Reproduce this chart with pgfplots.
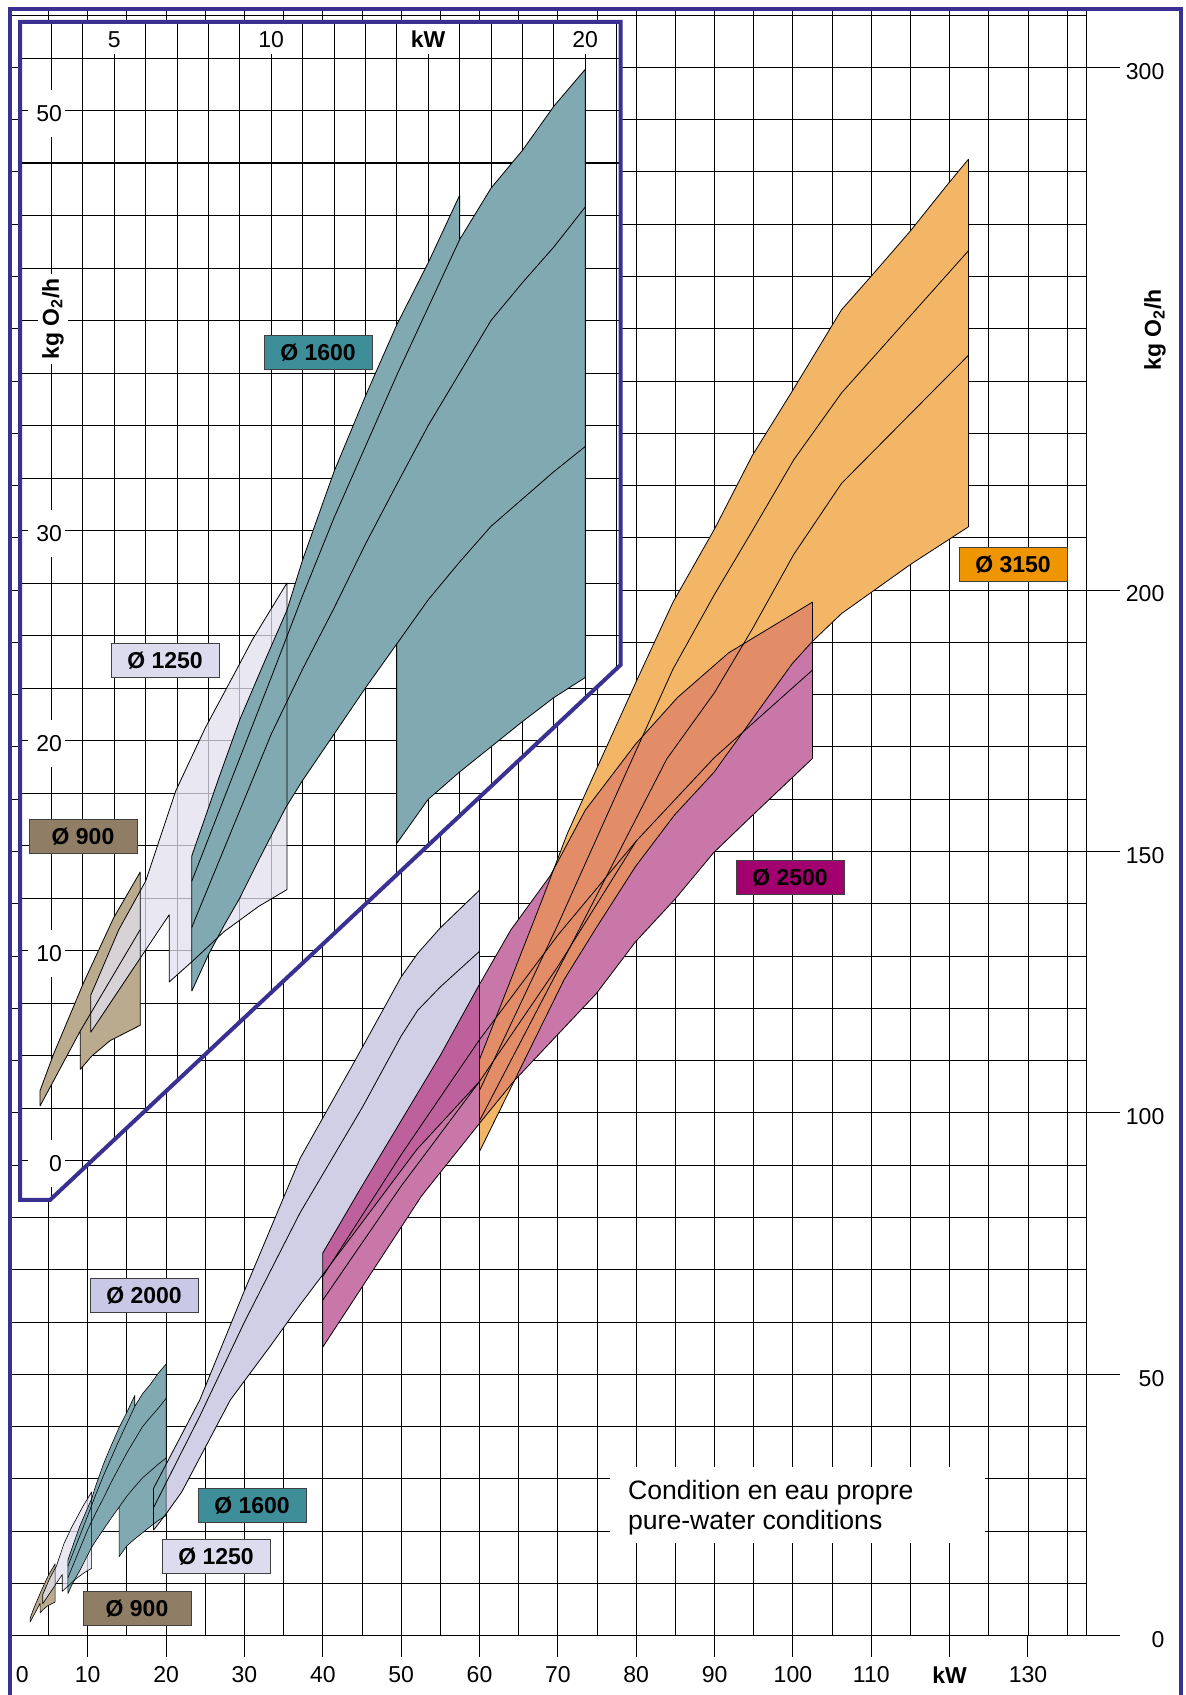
\documentclass[border=0pt]{standalone}
\usepackage{fontspec}
\setmainfont{Liberation Sans}
\usepackage{pgfplots}
\usepackage{pgfplotstable}
\pgfplotsset{compat=1.18}
\definecolor{purp}{RGB}{58,48,146}
\definecolor{c900}{RGB}{186,170,142}
\definecolor{c900box}{RGB}{143,126,101}
\definecolor{c1250}{RGB}{226,224,238}
\definecolor{c1250box}{RGB}{221,219,238}
\definecolor{c1600}{RGB}{128,169,178}
\definecolor{c1600box}{RGB}{62,142,153}
\definecolor{c2000}{RGB}{208,207,230}
\definecolor{c2000box}{RGB}{201,200,230}
\definecolor{c2500}{RGB}{201,119,168}
\definecolor{c2500box}{RGB}{163,0,111}
\definecolor{c2520}{RGB}{190,96,156}
\definecolor{c3150}{RGB}{243,181,102}
\definecolor{c3125}{RGB}{226,140,104}
\definecolor{c3150box}{RGB}{238,149,0}

% ---------------- data (kW, kg O2/h) ----------------
\pgfplotstableread[row sep=\\]{x y\\
60 92.6\\ 60 110.2\\ 64 125.5\\ 68 140.8\\ 71.2 153.4\\ 75 166\\ 80 182.5\\ 84.7 197.7\\ 90 211.7\\ 94.8 225.7\\ 100.1 238.5\\ 106.2 253.6\\ 110.2 260.4\\ 115 268.7\\ 119.8 277.7\\ 122.4 282.4\\ 122.4 212.1\\ 115 204.9\\ 106.2 195.5\\ 102.5 190.2\\ 99.9 185.9\\ 89.9 165.1\\ 84.9 157\\ 79.9 147.1\\ 74.9 135.4\\ 70.8 125.5\\ 64.4 106\\ 60 92.6\\
}\Ora
\pgfplotstableread[row sep=\\]{x y\\
60 104.3\\ 70 136\\ 79.5 167.7\\ 84.7 184.9\\ 90 199.2\\ 94.8 211.3\\ 100.1 224.9\\ 106.2 237.7\\ 122.4 264.9\\
}\OraA
\pgfplotstableread[row sep=\\]{x y\\
60 98.5\\ 72 133\\ 83.9 167.7\\ 90 180.4\\ 94.8 192.5\\ 100.1 206.8\\ 106.2 220.4\\ 122.4 244.9\\
}\OraB
\pgfplotstableread[row sep=\\]{x y\\
40 55.2\\ 40 73.2\\ 45 86\\ 50 98.5\\ 55 111\\ 60 124.6\\ 64 135\\ 69 145.3\\ 73.5 157.9\\ 79.9 170.5\\ 85.3 179.5\\ 91.8 188\\ 102.5 197.7\\ 102.5 167.8\\ 94.9 157\\ 89.9 149.8\\ 84.9 140.8\\ 79.9 132.7\\ 74.9 122.8\\ 64.4 106.1\\ 60 98\\ 52.6 84.1\\ 40 55.2\\
}\Mag
% overlap of orange and magenta
\pgfplotstableread[row sep=\\]{x y\\
60 98\\ 60 110.2\\ 64 125.5\\ 68 140.8\\ 69.8 147.6\\ 73.5 157.9\\ 79.9 170.5\\ 85.3 179.5\\ 91.8 188\\ 102.5 197.7\\ 102.5 190.2\\ 99.9 185.9\\ 89.9 165.1\\ 84.9 157\\ 79.9 147.1\\ 74.9 135.4\\ 70.8 125.5\\ 64.4 106\\ 60 98\\
}\OvOM
% overlap of lavender 2000 and magenta
\pgfplotstableread[row sep=\\]{x y\\
40 68.9\\ 40 73.2\\ 45 86\\ 50 98.5\\ 55 111\\ 60 124.6\\ 60 106\\ 52 93\\ 45 79\\ 40 68.9\\
}\OvLM
\pgfplotstableread[row sep=\\]{x y\\
40 68.7\\ 50 92\\ 60 114\\ 70 134\\ 80 152\\ 90 168\\ 102.5 184.7\\
}\MagA
\pgfplotstableread[row sep=\\]{x y\\
40 64.2\\ 50 86\\ 60 106\\ 70 128\\ 80 152\\
}\MagB
\pgfplotstableread[row sep=\\]{x y\\
18.4 20.2\\ 18.4 28.2\\ 24.3 45.1\\ 30 66\\ 37.1 91.3\\ 44 109.7\\ 50 126\\ 52.1 130.5\\ 55 135.4\\ 60 142.6\\ 60 106\\ 52 93\\ 45 79\\ 37.1 63.3\\ 33.3 55.4\\ 28.2 45.1\\ 22 27.5\\ 20 23.3\\ 18.4 20.2\\
}\Ltwo
\pgfplotstableread[row sep=\\]{x y\\
18.4 24.5\\ 24.3 42\\ 30 60\\ 37.1 80.9\\ 45.1 101.2\\ 50 114.7\\ 52.1 119.6\\ 55 124.1\\ 60 130.9\\
}\LtwoA
\pgfplotstableread[row sep=\\]{x y\\
2.64 2.6\\ 2.64 3.33\\ 3.07 5.07\\ 4.02 8.45\\ 4.98 11.55\\ 5.83 13.74\\ 5.83 6.44\\ 4.87 5.71\\ 4.29 4.98\\ 3.92 4.34\\ 3.92 6.17\\ 2.64 2.6\\
}\Brown
\pgfplotstableread[row sep=\\]{x y\\
3.92 6.17\\ 5.83 11.0\\
}\BrownA
\pgfplotstableread[row sep=\\]{x y\\
4.25 6.1\\ 4.25 7.86\\ 5.15 11.0\\ 6.0 13.3\\ 6.96 17.6\\ 7.9 20.6\\ 8.87 23.3\\ 9.4 24.8\\ 10.5 27.5\\ 10.5 12.9\\ 9.6 12.1\\ 8.5 10.9\\ 7.5 9.5\\ 6.75 8.5\\ 6.75 11.7\\ 4.25 6.1\\
}\Lone
\pgfplotstableread[row sep=\\]{x y\\
7.47 8.06\\ 7.47 14.5\\ 8.34 18.25\\ 9 21\\ 9.8 23.8\\ 10.5 26.2\\ 11 28.6\\ 12 32.8\\ 13 36.4\\ 14 39.8\\ 15 42.75\\ 16 45.96\\ 16 43.85\\ 17 46.3\\ 18 48.1\\ 19 50.2\\ 20 51.96\\ 20 23.0\\ 19 22.04\\ 18 20.9\\ 17 19.7\\ 16 18.5\\ 15 17.2\\ 14 15.1\\ 14 24.6\\ 13 22.5\\ 12 20.3\\ 11 18.1\\ 10.46 16.8\\ 9.6 14.3\\ 9 12.5\\ 8.5 11.2\\ 8 9.8\\ 7.47 8.06\\
}\Teal
\pgfplotstableread[row sep=\\]{x y\\
7.47 13.3\\ 10 23.0\\ 11 26.9\\ 12 30.6\\ 14 37.4\\ 16 43.85\\
}\TealA
\pgfplotstableread[row sep=\\]{x y\\
7.47 11.1\\ 10 20.3\\ 11 23.4\\ 12 26.3\\ 13 29.35\\ 14 32.2\\ 15 35\\ 16 37.5\\ 17 40.0\\ 18 41.8\\ 19 43.5\\ 20 45.4\\
}\TealB
\pgfplotstableread[row sep=\\]{x y\\
14 24.6\\ 15 26.7\\ 16 28.5\\ 17 30.2\\ 18 31.5\\ 19 32.8\\ 20 34.0\\
}\TealC

\tikzset{ln/.style={black, line width=0.4pt, line join=round},
  lbl/.style={draw=black!75, line width=0.5pt, minimum width=54pt, minimum height=17pt, inner sep=0pt, font=\bfseries\fontsize{11.5}{13}\selectfont}}

\begin{document}
\begin{tikzpicture}
\useasboundingbox (0,0) rectangle (592.5pt,847.5pt);
\fill[white] (0,0) rectangle (592.5pt,847.5pt);

% ---------------- main axis ----------------
\begin{axis}[
  at={(4.7pt,29.65pt)}, anchor=south west,
  x=3.9175pt, y=2.614pt,
  xmin=0, xmax=137.5, ymin=0, ymax=310.8,
  axis line style={black, line width=0.5pt},
  xtick={0,10,...,130},
  xticklabels={\makebox[0pt]{\hspace{12.9pt}0},10,20,30,40,50,60,70,80,90,100,110,\textbf{kW},130},
  minor xtick={5,15,...,135},
  ytick={0,50,100,150,200,300},
  yticklabels={0,50,100,150,200,300},
  minor ytick={10,20,...,310},
  grid=both,
  grid style={black, line width=0.45pt},
  minor grid style={black, line width=0.45pt},
  major grid style={black, line width=0.45pt},
  xtick align=outside, xtick pos=left,
  major tick length=10.5pt, minor tick length=0pt,
  ytick pos=right, yticklabel pos=right, ytick style={draw=none},
  xtick style={black, line width=0.5pt},
  tick label style={font=\fontsize{11.5}{13}\selectfont},
  xticklabel style={yshift=-1.5pt},
  yticklabel style={anchor=east, inner sep=0pt, xshift=39pt, yshift=-2pt},
]
\addplot[fill=c2000, draw=none] table[x=x,y=y]{\Ltwo};
\addplot[fill=c2500, draw=none] table[x=x,y=y]{\Mag};
\addplot[fill=c3150, draw=none] table[x=x,y=y]{\Ora};
\addplot[fill=c3125, draw=none] table[x=x,y=y]{\OvOM};
\addplot[fill=c2520, draw=none] table[x=x,y=y]{\OvLM};
\addplot[fill=c900, draw=none] table[x=x,y=y]{\Brown};
\addplot[fill=c1250, fill opacity=0.75, draw=none] table[x=x,y=y]{\Lone};
\addplot[fill=c1600, draw=none] table[x=x,y=y]{\Teal};
\addplot[ln] table[x=x,y=y]{\Ltwo};
\addplot[ln] table[x=x,y=y]{\LtwoA};
\addplot[ln] table[x=x,y=y]{\Mag};
\addplot[ln] table[x=x,y=y]{\MagA};
\addplot[ln] table[x=x,y=y]{\MagB};
\addplot[ln] table[x=x,y=y]{\Ora};
\addplot[ln] table[x=x,y=y]{\OraA};
\addplot[ln] table[x=x,y=y]{\OraB};
\addplot[ln, line width=0.3pt] table[x=x,y=y]{\Brown};
\addplot[ln, line width=0.3pt] table[x=x,y=y]{\Lone};
\addplot[ln, line width=0.3pt] table[x=x,y=y]{\Teal};
\addplot[ln, line width=0.3pt] table[x=x,y=y]{\TealA};
\addplot[ln, line width=0.3pt] table[x=x,y=y]{\TealB};
\addplot[ln, line width=0.3pt] table[x=x,y=y]{\TealC};
\end{axis}

% ---------------- inset ----------------
\begin{scope}
\clip (10pt,836.5pt) -- (310.35pt,836.5pt) -- (310.35pt,515.1pt) -- (25pt,247.5pt) -- (10pt,247.5pt) -- cycle;
\fill[white] (0,0) rectangle (600pt,850pt);
\begin{axis}[
  at={(10pt,247.5pt)}, anchor=south west,
  x=15.7pt, y=10.5pt,
  xmin=2, xmax=21.14, ymin=-1.88, ymax=54.2,
  axis line style={draw=none},
  tick style={draw=none},
  xtick={5,10,15,20},
  xticklabels={5,10,\textbf{kW},20},
  minor xtick={3,4,6,7,8,9,11,12,13,14,16,17,18,19,21},
  ytick={0,10,20,30,50},
  yticklabels={0,10,20,30,50},
  minor ytick={2.5,5,...,52.5},
  grid=both,
  grid style={black, line width=0.45pt},
  minor grid style={black, line width=0.45pt},
  major grid style={black, line width=0.45pt},
  xticklabel pos=upper,
  tick label style={font=\fontsize{11.5}{13}\selectfont},
  xticklabel style={anchor=center, yshift=-8.5pt, fill=white, inner xsep=1.5pt, minimum height=15pt},
  yticklabel style={anchor=center, xshift=13pt, yshift=-1.5pt, fill=white, inner xsep=1.25pt, inner ysep=0pt, text width=16pt, align=right, minimum height=23.5pt},
]
\draw[black, line width=1.1pt] (axis cs:2,47.5) -- (axis cs:21.14,47.5);
\addplot[fill=c900, draw=none] table[x=x,y=y]{\Brown};
\addplot[fill=c1250, fill opacity=0.75, draw=none] table[x=x,y=y]{\Lone};
\addplot[fill=c1600, draw=none] table[x=x,y=y]{\Teal};
\addplot[ln] table[x=x,y=y]{\Brown};
\addplot[ln] table[x=x,y=y]{\BrownA};
\addplot[ln] table[x=x,y=y]{\Lone};
\addplot[ln] table[x=x,y=y]{\Teal};
\addplot[ln] table[x=x,y=y]{\TealA};
\addplot[ln] table[x=x,y=y]{\TealB};
\addplot[ln] table[x=x,y=y]{\TealC};
\end{axis}
\end{scope}

% ---------------- decorations in pixel coordinates ----------------
\begin{scope}[x=0.5pt, y=-0.5pt, yshift=847.5pt]
\foreach \yy in {1635.7,1374.3,1112.9,851.5,590.1,67.3}{\draw[black, line width=0.5pt] (1087,\yy) -- (1120,\yy);}
\fill[white] (610,1467) rectangle (985,1543);
\node[anchor=west, align=left, font=\fontsize{13.3}{15}\selectfont] at (621,1508) {Condition en eau propre\\pure-water conditions};
\node[rotate=90, font=\bfseries\fontsize{11.5}{13}\selectfont] at (1155,330) {kg O\textsubscript{2}/h};
\node[rotate=90, fill=white, inner sep=2pt, font=\bfseries\fontsize{11.5}{13}\selectfont] at (53,319) {kg O\textsubscript{2}/h};
\draw[purp, line width=2pt, line join=miter] (20,22) -- (620.7,22) -- (620.7,664.8) -- (50,1200) -- (20,1200) -- cycle;
\draw[purp, line width=2pt, line join=miter] (9.5,1700) -- (9.5,9) -- (1181,9) -- (1181,1700);
\node[lbl, fill=c1600box] at (318,353) {Ø 1600};
\node[lbl, fill=c1250box] at (165,661) {Ø 1250};
\node[lbl, fill=c900box] at (83,837) {Ø 900};
\node[lbl, fill=c3150box] at (1013,565) {Ø 3150};
\node[lbl, fill=c2500box] at (790,878) {Ø 2500};
\node[lbl, fill=c2000box] at (144,1296) {Ø 2000};
\node[lbl, fill=c1600box] at (252,1506) {Ø 1600};
\node[lbl, fill=c1250box] at (216,1557) {Ø 1250};
\node[lbl, fill=c900box] at (137,1609) {Ø 900};
\end{scope}
\end{tikzpicture}
\end{document}
